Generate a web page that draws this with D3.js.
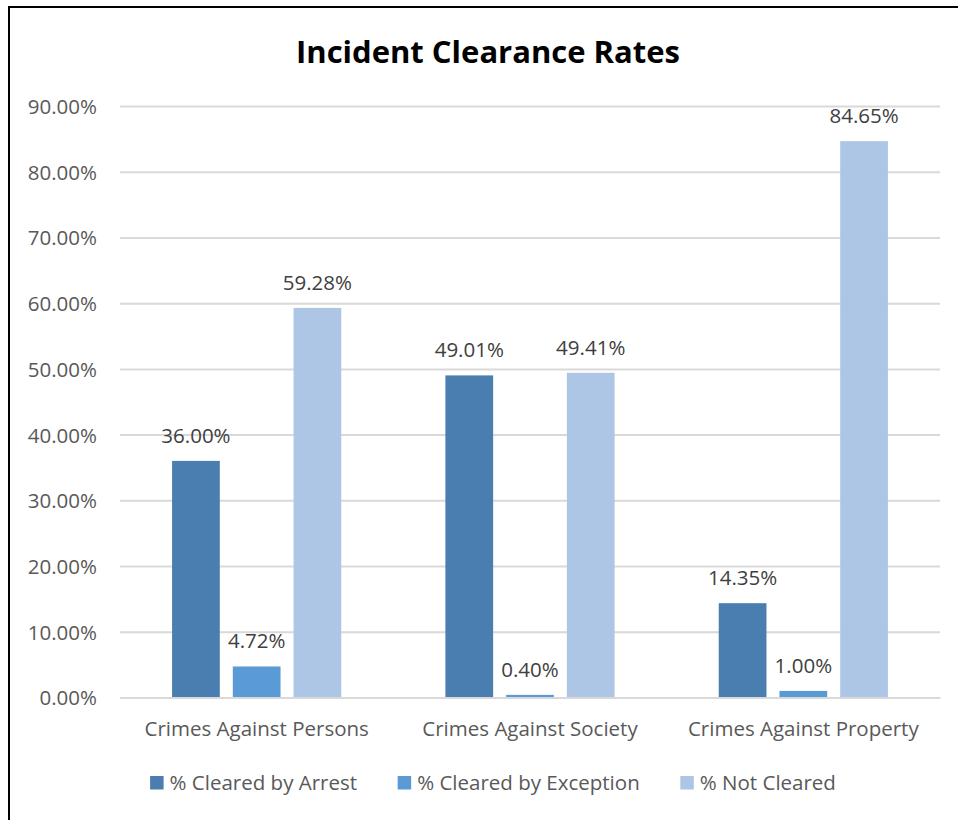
<!DOCTYPE html>
<html>
<head>
<meta charset="utf-8">
<script src="https://cdn.jsdelivr.net/npm/d3@7"></script>
<style>
  html, body { margin: 0; padding: 0; background: #fff; }
  svg { display: block; }
</style>
</head>
<body>
<svg id="chart" width="958" height="820"></svg>
<script>
const title = "Incident Clearance Rates";
const categories = ["Crimes Against Persons", "Crimes Against Society", "Crimes Against Property"];
const seriesNames = ["% Cleared by Arrest", "% Cleared by Exception", "% Not Cleared"];
const clearedByArrest = [36.00, 49.01, 14.35];
const clearedByException = [4.72, 0.40, 1.00];
const notCleared = [59.28, 49.41, 84.65];
const yTicks = [0, 10, 20, 30, 40, 50, 60, 70, 80, 90];
const seriesColors = ["#4A7EB0", "#5B9BD5", "#ADC6E6"];

const seriesValues = [clearedByArrest, clearedByException, notCleared];
const FONT = "'Open Sans', 'Noto Sans', sans-serif";

const svg = d3.select("#chart");

// frame (cropped chart border)
svg.append("path")
  .attr("d", "M9,830 L9,7 L970,7")
  .attr("fill", "none").attr("stroke", "#000").attr("stroke-width", 2);

const plot = { left: 120, right: 940, top: 106, bottom: 697.5 };

const y = d3.scaleLinear().domain([0, 90]).range([plot.bottom, plot.top]);
const x0 = d3.scaleBand().domain(categories).range([plot.left, plot.right]).paddingInner(0).paddingOuter(0);
const groupW = x0.bandwidth() * 0.619;
const x1 = d3.scaleBand().domain(seriesNames).range([-groupW / 2, groupW / 2]).paddingInner(0.214).paddingOuter(0);

// title
svg.append("text")
  .attr("x", 488).attr("y", 63)
  .attr("text-anchor", "middle")
  .attr("font-family", FONT).attr("font-weight", "bold")
  .attr("font-size", 31).attr("fill", "#000")
  .text(title);

// gridlines + y axis labels
const yAxis = d3.axisLeft(y).tickValues(yTicks)
  .tickSize(-(plot.right - plot.left))
  .tickPadding(23)
  .tickFormat(d => d.toFixed(2) + "%");
const gy = svg.append("g").attr("transform", `translate(${plot.left},0)`).call(yAxis);
gy.select(".domain").remove();
gy.selectAll(".tick line").attr("stroke", "#D9D9D9").attr("stroke-width", 2);
gy.selectAll(".tick text")
  .attr("font-family", FONT).attr("font-size", 20.5).attr("fill", "#595959")
  .attr("dy", "0.36em");

// bars
const groups = svg.append("g").selectAll("g")
  .data(categories)
  .join("g")
  .attr("transform", d => `translate(${x0(d) + x0.bandwidth() / 2},0)`);

groups.selectAll("rect")
  .data((c, ci) => seriesNames.map((s, si) => ({ s, si, v: seriesValues[si][ci] })))
  .join("rect")
  .attr("x", d => x1(d.s))
  .attr("width", x1.bandwidth())
  .attr("y", d => y(d.v))
  .attr("height", d => y(0) - y(d.v))
  .attr("fill", d => seriesColors[d.si]);

groups.selectAll("text.lbl")
  .data((c, ci) => seriesNames.map((s, si) => ({ s, si, v: seriesValues[si][ci] })))
  .join("text")
  .attr("class", "lbl")
  .attr("x", d => x1(d.s) + x1.bandwidth() / 2)
  .attr("y", d => y(d.v) - 18)
  .attr("text-anchor", "middle")
  .attr("font-family", FONT).attr("font-size", 20.5).attr("fill", "#404040")
  .text(d => d.v.toFixed(2) + "%");

// x axis
const xAxis = d3.axisBottom(x0).tickSize(0).tickPadding(0);
const gx = svg.append("g").attr("transform", `translate(0,${plot.bottom})`).call(xAxis);
gx.select(".domain").attr("stroke", "#D9D9D9").attr("stroke-width", 2);
gx.selectAll(".tick text")
  .attr("font-family", FONT).attr("font-size", 20.5).attr("fill", "#595959")
  .attr("y", 38.5).attr("dy", 0);

// legend
const legend = svg.append("g");
const items = legend.selectAll("g").data(seriesNames).join("g");
items.append("rect")
  .attr("width", 13.5).attr("height", 13.5)
  .attr("y", 776)
  .attr("fill", (d, i) => seriesColors[i]);
items.append("text")
  .attr("x", 19.5).attr("y", 790)
  .attr("font-family", FONT).attr("font-size", 20.5).attr("fill", "#595959")
  .text(d => d);
let xPos = 0;
const widths = [];
items.each(function () {
  const w = 19.5 + d3.select(this).select("text").node().getComputedTextLength();
  widths.push(w);
});
const gapItem = 40.6;
const totalW = d3.sum(widths) + gapItem * (widths.length - 1);
xPos = 493 - totalW / 2;
items.attr("transform", (d, i) => {
  const t = `translate(${xPos},0)`;
  xPos += widths[i] + gapItem;
  return t;
});
</script>
</body>
</html>
